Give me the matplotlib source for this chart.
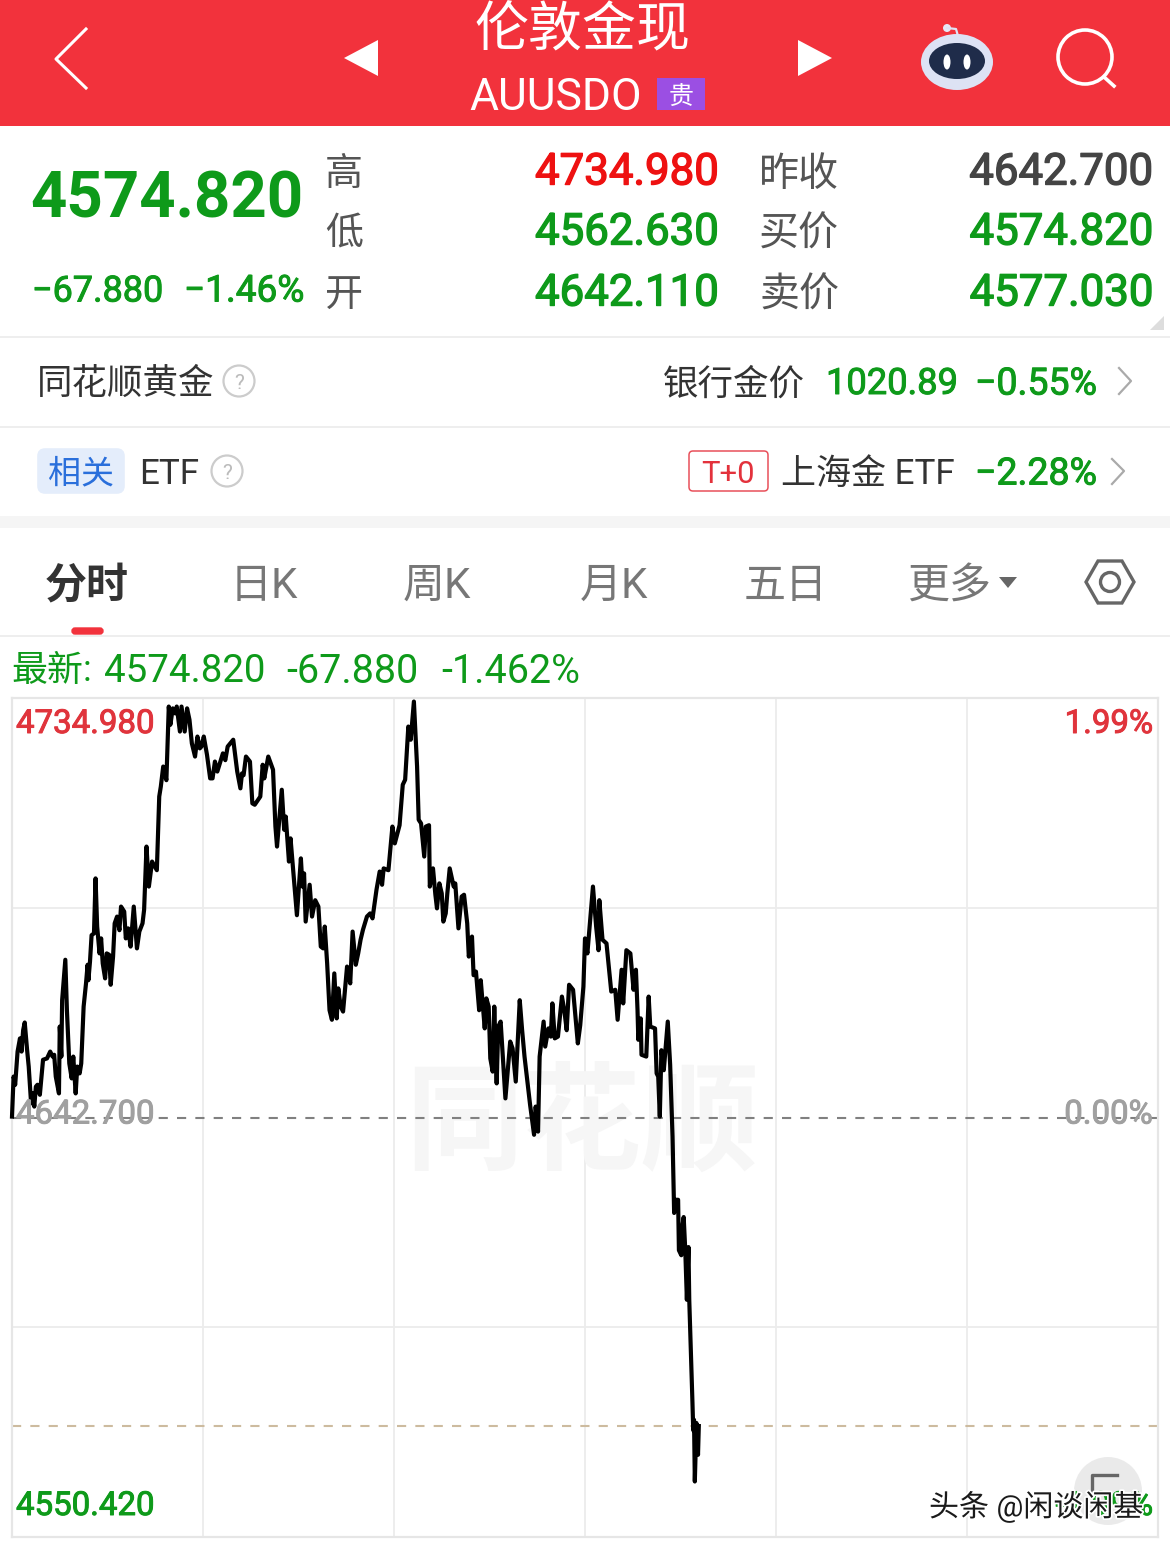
import matplotlib
matplotlib.use("Agg")
import matplotlib.pyplot as plt
import matplotlib.patheffects as pe
from matplotlib.patches import Rectangle, Circle, Ellipse, FancyBboxPatch, Polygon

plt.rcParams["font.family"] = ["Roboto", "Noto Sans CJK SC", "DejaVu Sans"]

PREV_CLOSE = 4642.700
LAST_PRICE = 4574.820
AXIS_TOP = 4734.980
AXIS_BOTTOM = 4550.420

# minutes after session open
minutes = [
    0, 2, 4, 7, 10, 12, 14, 16, 19, 21, 24, 26, 28, 30, 32, 35, 39, 44, 48, 51,
    53, 55, 59, 60, 62, 63, 67, 69, 72, 75, 77, 80, 82, 85, 87, 90, 93, 95, 96, 98,
    100, 103, 105, 107, 110, 112, 114, 117, 119, 122, 124, 127, 129, 132, 135, 137, 141, 143, 146, 149,
    153, 157, 160, 164, 166, 169, 172, 176, 182, 185, 187, 190, 194, 197, 199, 202, 205, 207, 211, 213,
    217, 220, 223, 226, 230, 233, 236, 238, 241, 245, 249, 252, 255, 258, 265, 268, 271, 278, 283, 287,
    289, 291, 294, 299, 302, 305, 312, 315, 317, 322, 328, 331, 333, 339, 342, 344, 348, 350, 355, 358,
    363, 365, 367, 369, 374, 377, 381, 385, 388, 391, 393, 396, 399, 402, 405, 408, 410, 413, 416, 421,
    425, 428, 432, 435, 438, 441, 446, 450, 453, 458, 462, 465, 467, 473,
    478, 481, 487, 491, 494, 498, 501, 505, 509, 511, 514, 518, 520, 524, 525, 529, 532, 534, 537, 540,
    542, 545, 547, 550, 555, 557, 561, 565, 568, 572, 574, 578, 580, 583, 587, 589, 594, 596, 599, 601,
    604, 606, 609, 611, 614, 620, 626, 629, 633, 638, 641, 644, 651, 656, 658, 661, 663, 668, 670, 674,
    677, 679, 682, 686, 691, 694, 697, 700, 705, 711, 714, 718, 720, 723, 730, 734, 737, 738, 742, 747,
    753, 758, 761, 766, 768, 772, 777, 781, 784, 786, 787, 790, 791, 797, 800, 802, 808, 810, 812, 814,
    816, 819, 824, 827, 830, 831, 832, 834, 837, 838, 841, 842, 844, 846, 848, 850, 851, 853, 855, 856,
    857, 858, 860, 862, 863,
]
prices = [
    4642.9, 4651.7, 4649.9, 4657.2, 4660.1, 4657.2, 4661.9, 4663.6, 4657.5, 4653.9, 4645.8, 4648.0, 4645.1, 4649.5, 4649.9, 4647.7, 4655.4, 4655.7, 4657.2, 4656.1,
    4656.5, 4651.7, 4648.0, 4662.7, 4656.1, 4668.5, 4677.4, 4666.3, 4654.6, 4651.3, 4656.1, 4648.0, 4653.9, 4652.4, 4654.6, 4667.1, 4672.2, 4676.3, 4672.9, 4677.0,
    4682.8, 4683.2, 4695.3, 4684.7, 4678.8, 4682.1, 4676.6, 4673.3, 4678.8, 4678.5, 4671.9, 4678.1, 4685.4, 4686.9, 4683.9, 4689.1, 4688.0, 4682.1, 4684.3, 4680.3,
    4689.1, 4679.9, 4683.6, 4685.4, 4688.4, 4702.3, 4693.5, 4699.0, 4697.1, 4713.3, 4715.5, 4719.9, 4716.9, 4733.1, 4729.1, 4732.7, 4731.6, 4733.1, 4727.6, 4733.1,
    4727.6, 4732.7, 4730.2, 4725.0, 4722.1, 4726.5, 4723.9, 4724.3, 4726.5, 4722.5, 4717.3, 4717.3, 4721.0, 4718.8, 4722.8, 4721.3, 4724.3, 4725.8, 4718.8, 4715.1,
    4718.4, 4718.0, 4722.1, 4721.0, 4711.8, 4711.5, 4713.3, 4720.3, 4717.3, 4722.1, 4719.2, 4706.7, 4702.3, 4714.8, 4706.0, 4708.9, 4699.0, 4704.1, 4693.5, 4687.2,
    4699.7, 4693.5, 4696.4, 4685.8, 4693.9, 4686.9, 4690.5, 4689.1, 4680.3, 4679.9, 4684.7, 4676.6, 4666.3, 4664.2, 4674.4, 4664.5, 4671.1, 4667.1, 4666.0, 4675.9,
    4672.2, 4683.6, 4676.3, 4678.8, 4681.8, 4684.0, 4686.9, 4687.6, 4686.5, 4692.8, 4696.8, 4693.9, 4697.5, 4697.1,
    4706.7, 4703.0, 4707.0, 4715.9, 4717.0, 4728.7, 4725.8, 4734.2, 4719.9, 4708.2, 4707.4, 4700.1, 4706.7, 4707.0, 4693.5, 4697.5, 4691.7, 4688.7, 4694.2, 4692.0,
    4685.8, 4687.6, 4692.0, 4697.5, 4693.5, 4694.2, 4684.3, 4691.3, 4691.7, 4685.4, 4678.1, 4682.5, 4674.0, 4674.8, 4666.3, 4672.9, 4662.3, 4668.9, 4667.1, 4655.7,
    4652.8, 4667.1, 4650.2, 4662.7, 4663.8, 4646.9, 4659.4, 4657.9, 4650.6, 4668.5, 4661.9, 4656.1, 4645.5, 4638.9, 4645.1, 4639.6, 4656.1, 4663.8, 4658.3, 4662.3,
    4660.5, 4667.8, 4660.1, 4660.5, 4669.3, 4666.3, 4661.9, 4671.9, 4670.8, 4659.0, 4663.0, 4671.5, 4682.1, 4678.8, 4693.5, 4684.7, 4679.5, 4690.5, 4681.8, 4681.0,
    4670.4, 4670.8, 4664.2, 4675.2, 4667.8, 4679.5, 4678.8, 4670.8, 4675.2, 4666.3, 4659.8, 4664.5, 4656.5, 4656.1, 4669.3, 4662.7, 4662.3, 4652.4, 4651.7, 4642.9,
    4657.5, 4653.1, 4663.8, 4654.3, 4638.5, 4630.5, 4621.7, 4624.6, 4624.6, 4613.5, 4612.4, 4618.4, 4620.8, 4613.5, 4602.6, 4614.2, 4602.6, 4591.5, 4580.1, 4573.9,
    4576.2, 4562.63, 4575.5, 4568.5, 4574.82,
]

quote_labels = ["高", "低", "开"]
quote_values = ["4734.980", "4562.630", "4642.110"]
side_labels = ["昨收", "买价", "卖价"]
side_values = ["4642.700", "4574.820", "4577.030"]
tabs = ["分时", "日K", "周K", "月K", "五日", "更多"]

RED = "#f2323c"
GREEN = "#0e9a1a"
GREY = "#555555"

W, H = 1170, 1548
fig = plt.figure(figsize=(W / 100, H / 100), dpi=100, facecolor="white")

# price chart, positioned in pixels
left, right, top, bottom = 12, 1158, 698, 1537
ax = fig.add_axes([left / W, 1 - bottom / H, (right - left) / W, (bottom - top) / H])
ax.set_xlim(0, 1440)
ax.set_ylim(AXIS_BOTTOM, AXIS_TOP)
ax.set_xticks([240, 480, 720, 960, 1200])
ax.set_yticks([AXIS_BOTTOM + (AXIS_TOP - AXIS_BOTTOM) * f for f in (0.25, 0.75)])
ax.tick_params(length=0, labelbottom=False, labelleft=False)
ax.grid(color="#ececec", lw=1.3)
ax.set_axisbelow(True)
for s in ax.spines.values():
    s.set_color("#e6e6e6")
    s.set_linewidth(1.6)
ax.axhline(PREV_CLOSE, color="#808080", lw=1.5, dashes=(4.4, 4.4))
ax.axhline(LAST_PRICE, color="#cdbb9f", lw=1.5, dashes=(4.4, 4.4))
ax.plot(minutes, prices, color="black", lw=3.0, solid_joinstyle="round", clip_on=False, zorder=5)

# everything else goes on a pixel-coordinate overlay
ui = fig.add_axes([0, 0, 1, 1], zorder=3)
ui.set_xlim(0, W)
ui.set_ylim(H, 0)
ui.axis("off")

# app watermark sits under the price line, so it belongs to the chart axes
ax.text(582, 1128.5, "同花顺", fontsize=118 * 0.72, color="#f6f6f6", ha="center", va="center",
        fontweight="bold", transform=ui.transData, zorder=1)


def txt(x, y, s, px, color, ha="left", weight="normal", **kw):
    return ui.text(x, y + 3.5, s, fontsize=px * 0.72, color=color, ha=ha, va="center",
                   fontweight=weight, **kw)


def num(x, y, s, px, color, ha="left", stroke=0.7):
    # Digits get a thin stroke, closer to the app's medium weight
    return txt(x, y, s, px, color, ha=ha,
               path_effects=[pe.withStroke(linewidth=stroke, foreground=color)])


# header
ui.add_patch(Rectangle((0, 0), W, 126, color=RED, lw=0))
ui.plot([86, 56, 86], [29, 59, 88], color="white", lw=2.2)
ui.add_patch(Polygon([(378, 40), (378, 76), (344, 58)], color="white", lw=0))
ui.add_patch(Polygon([(798, 40), (798, 76), (832, 58)], color="white", lw=0))
txt(583, 28, "伦敦金现", 54, "white", ha="center")
txt(469, 94, "AUUSDO", 44.5, "white")
ui.add_patch(Rectangle((657, 78), 48, 32, color="#9b4fe3", lw=0))
txt(681, 94, "贵", 25, "white", ha="center")
# robot
ui.plot([947, 956, 958], [28, 29, 36], color="#dfe3f5", lw=1.6)
ui.add_patch(Circle((947, 28), 4, color="#e6e8f6", lw=0))
ui.add_patch(Ellipse((957, 62), 72, 56, color="#dde2f4", lw=0))
ui.add_patch(Ellipse((957, 61), 56, 36, color="#1f2c4a", lw=0))
ui.add_patch(Ellipse((947, 62), 7, 15, color="white", lw=0))
ui.add_patch(Ellipse((967, 62), 7, 15, color="white", lw=0))
# search
ui.add_patch(Circle((1085, 57), 27, fill=False, ec="white", lw=2.6))
ui.plot([1104, 1114], [77, 86], color="white", lw=2.6)

# quote block
txt(30, 197, "4574.820", 63.5, GREEN, weight="bold")
num(32, 288, "−67.880", 36, GREEN)
num(184, 288, "−1.46%", 37, GREEN)
for i, y in enumerate((171, 231, 292)):
    txt(325, y, quote_labels[i], 38, GREY)
    num(535, y - 2, quote_values[i], 43.8, "#ee1111" if i == 0 else GREEN, stroke=1.0)
    txt(759, y, side_labels[i], 40, GREY)
    num(1153, y - 2, side_values[i], 43.8, "#444444" if i == 0 else GREEN, ha="right", stroke=1.0)
ui.add_patch(Polygon([(1164, 316), (1164, 330), (1150, 330)], color="#dddddd", lw=0))

# separators
ui.plot([0, W], [337, 337], color="#eeeeee", lw=1.4)
ui.plot([0, W], [427, 427], color="#eeeeee", lw=1.4)
ui.add_patch(Rectangle((0, 516), W, 12, color="#f5f5f5", lw=0))
ui.plot([0, W], [636, 636], color="#eeeeee", lw=1.4)

# gold row
txt(37, 381, "同花顺黄金", 35.5, "#333333")
ui.add_patch(Circle((239, 381), 15.5, fill=False, ec="#cccccc", lw=1.6))
txt(239, 380, "?", 21, "#bbbbbb", ha="center")
txt(663, 381, "银行金价", 35.5, "#333333")
num(826, 380.5, "1020.89", 36.3, GREEN)
num(975, 380.5, "−0.55%", 37.5, GREEN)
ui.plot([1119, 1131, 1119], [368, 381, 394], color="#aaaaaa", lw=1.6)

# ETF row
ui.add_patch(FancyBboxPatch((40, 451), 82, 40, boxstyle="round,pad=0,rounding_size=5", fc="#e4edfb", ec="#e4edfb", lw=4))
txt(81, 471, "相关", 33, "#2a6fdb", ha="center")
txt(139, 471, "ETF", 35, "#333333")
ui.add_patch(Circle((227, 471), 15.5, fill=False, ec="#cccccc", lw=1.6))
txt(227, 470, "?", 21, "#bbbbbb", ha="center")
ui.add_patch(FancyBboxPatch((689, 451), 79, 40, boxstyle="round,pad=0,rounding_size=4", fc="white", ec="#e8505a", lw=1.1))
txt(728, 471, "T+0", 31, "#e3323c", ha="center")
txt(781, 471, "上海金 ETF", 35, "#333333")
num(975, 470.5, "−2.28%", 37.5, GREEN)
ui.plot([1112, 1124, 1112], [459, 471, 484], color="#aaaaaa", lw=1.6)

# tabs
for s, x in zip(tabs, (87, 264, 437, 614, 786, 949)):
    if s == "分时":
        txt(x, 583, s, 42, "#333333", ha="center", weight="bold")
    else:
        txt(x, 583, s, 42, "#777777", ha="center")
ui.add_patch(Polygon([(999, 577), (1017, 577), (1008, 588)], color="#666666", lw=0))
ui.add_patch(Polygon([(1086, 582), (1098, 561), (1122, 561), (1134, 582), (1122, 603), (1098, 603)],
                     fill=False, ec="#666666", lw=2.4))
ui.add_patch(Circle((1110, 582), 9.5, fill=False, ec="#666666", lw=2.4))
ui.add_patch(FancyBboxPatch((72, 628), 31, 6, boxstyle="round,pad=0,rounding_size=3", fc=RED, ec=RED, lw=1))

# latest line
txt(11, 668, "最新:", 36, GREEN)
txt(104, 668, "4574.820", 38.5, GREEN)
txt(286, 668, "-67.880", 39.5, GREEN)
txt(441, 668, "-1.462%", 39.5, GREEN)

# chart labels
num(16, 720.5, "4734.980", 33, "#e0343c")
num(16, 1111, "4642.700", 33, "#a0a0a0")
num(16, 1502.5, "4550.420", 33, GREEN)
num(1153, 720.5, "1.99%", 33, "#e0343c", ha="right")
num(1153, 1111, "0.00%", 33, "#a0a0a0", ha="right")
num(1153, 1502.5, "-1.99%", 33, GREEN, ha="right")

# floating button and site watermark
ui.add_patch(Circle((1108, 1491), 34, color="#e9e9e9", alpha=0.93, lw=0))
ui.plot([1117, 1092, 1092], [1475, 1475, 1495], color="#666666", lw=2.4)
txt(929, 1503, "头条 @闲谈闲基", 30, "#1a1a1a",
    path_effects=[pe.withStroke(linewidth=2.5, foreground="white")])

# time labels, only their tops show at the edge of the screenshot
txt(16, 1559, "06:00", 33, "#888888")
txt(1153, 1559, "05:59", 33, "#888888", ha="right")

fig.savefig("out.png", dpi=100)
